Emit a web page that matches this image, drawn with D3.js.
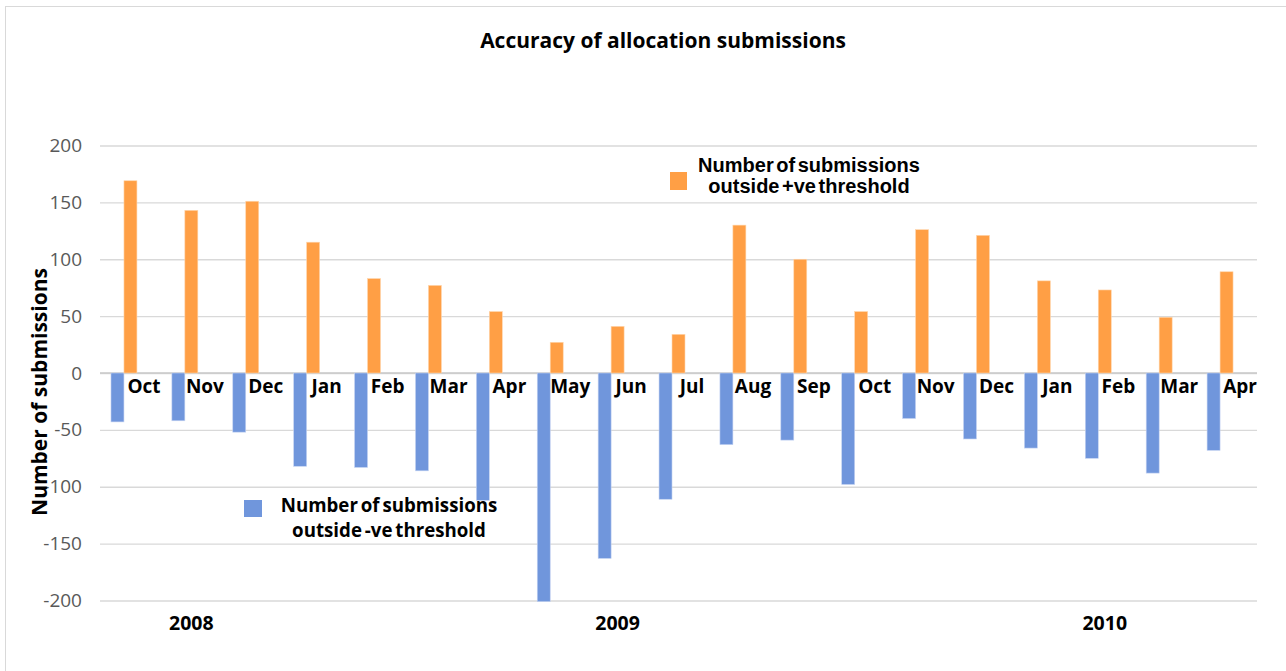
<!DOCTYPE html>
<html>
<head>
<meta charset="utf-8">
<script src="https://cdn.jsdelivr.net/npm/d3@7"></script>
<style>
  html, body { margin: 0; padding: 0; background: #fff; }
  svg { display: block; }
</style>
</head>
<body>
<svg id="chart" width="1286" height="671"></svg>
<script>
// Monthly categories, Oct 2008 – Apr 2010
const months = ["Oct", "Nov", "Dec", "Jan", "Feb", "Mar", "Apr", "May", "Jun", "Jul",
                "Aug", "Sep", "Oct", "Nov", "Dec", "Jan", "Feb", "Mar", "Apr"];

// Submissions outside the negative threshold (drawn below zero)
const negValues = [-43, -42, -52, -82, -83, -86, -112, -201, -163, -111,
                   -63, -59, -98, -40, -58, -66, -75, -88, -68];

// Submissions outside the positive threshold
const posValues = [169, 143, 151, 115, 83, 77, 54, 27, 41, 34,
                   130, 100, 54, 126, 121, 81, 73, 49, 89];

// Year groups on the second axis row: label, first and last category index
const yearLabels = ["2008", "2009", "2010"];
const yearStart  = [0, 3, 14];
const yearEnd    = [2, 13, 18];

const yTicks = [-200, -150, -100, -50, 0, 50, 100, 150, 200];

const seriesNames = ["Number of submissions outside -ve threshold",
                     "Number of submissions outside +ve threshold"];

const svg = d3.select("#chart");
const W = 1286, H = 671;

const plot = { left: 100, right: 1257, top: 145.5, bottom: 600.5 };

const colNeg = "#7096dc";
const colPos = "#ff9f45";
const font = "'Open Sans', 'Noto Sans', sans-serif";

// outer chart frame
svg.append("rect")
  .attr("x", 5.5).attr("y", 6.5)
  .attr("width", W + 20).attr("height", H + 20)
  .attr("fill", "#fff").attr("stroke", "#d9d9d9").attr("stroke-width", 1);

const x = d3.scaleBand()
  .domain(d3.range(months.length))
  .range([plot.left, plot.right])
  .paddingInner(0).paddingOuter(0);

// three slots per category; the third one stays empty
const xs = d3.scaleBand()
  .domain([0, 1, 2])
  .range([0, x.bandwidth()])
  .paddingInner(0).paddingOuter(0.846);

const y = d3.scaleLinear().domain([-200, 200]).range([plot.bottom, plot.top]);

// gridlines + tick labels (plain hyphen for negatives)
const yAxis = d3.axisLeft(y)
  .tickValues(yTicks)
  .tickFormat(d => String(d))
  .tickSize(-(plot.right - plot.left))
  .tickPadding(18);
const gy = svg.append("g").attr("transform", `translate(${plot.left},0)`).call(yAxis);
gy.select(".domain").remove();
gy.selectAll(".tick line").attr("stroke", "#d9d9d9").attr("stroke-width", 1.3);
gy.selectAll(".tick text")
  .attr("fill", "#595959")
  .style("font-family", font)
  .style("font-size", "19px");

// zero line
svg.append("line")
  .attr("x1", plot.left).attr("x2", plot.right)
  .attr("y1", y(0)).attr("y2", y(0))
  .attr("stroke", "#c8c8c8").attr("stroke-width", 1.3);

// negative bars
svg.append("g").selectAll("rect")
  .data(negValues)
  .join("rect")
  .attr("x", (d, i) => x(i) + xs(0))
  .attr("width", xs.bandwidth())
  .attr("y", y(0))
  .attr("height", d => y(d) - y(0))
  .attr("fill", colNeg)
  .attr("stroke", "#c6d4f2").attr("stroke-width", 0.6);

// positive bars
svg.append("g").selectAll("rect")
  .data(posValues)
  .join("rect")
  .attr("x", (d, i) => x(i) + xs(1))
  .attr("width", xs.bandwidth())
  .attr("y", d => y(d))
  .attr("height", d => y(0) - y(d))
  .attr("fill", colPos)
  .attr("stroke", "#ffd6ad").attr("stroke-width", 0.6);

// month labels just under the zero line
svg.append("g").selectAll("text")
  .data(months)
  .join("text")
  .attr("x", (d, i) => x(i) + x.bandwidth() * 0.723)
  .attr("y", y(0) + 20)
  .attr("text-anchor", "middle")
  .attr("fill", "#000")
  .style("font-family", font)
  .style("font-size", "19px")
  .style("font-weight", "700")
  .text(d => d);

// year labels
svg.append("g").selectAll("text")
  .data(yearLabels)
  .join("text")
  .attr("x", (d, i) => (x(yearStart[i]) + x(yearEnd[i]) + x.bandwidth()) / 2)
  .attr("y", 630)
  .attr("text-anchor", "middle")
  .attr("fill", "#000")
  .style("font-family", font)
  .style("font-size", "19.5px")
  .style("font-weight", "700")
  .text(d => d);

// title
svg.append("text")
  .attr("x", 663).attr("y", 48)
  .attr("text-anchor", "middle")
  .attr("fill", "#000")
  .style("font-family", font)
  .style("font-size", "21px")
  .style("font-weight", "700")
  .text("Accuracy of allocation submissions");

// y axis title
svg.append("text")
  .attr("transform", "translate(47,392) rotate(-90)")
  .attr("text-anchor", "middle")
  .attr("fill", "#000")
  .style("font-family", font)
  .style("font-size", "21px")
  .style("font-weight", "700")
  .text("Number of submissions");

// legend: positive series
const lp = svg.append("g");
lp.append("rect").attr("x", 670).attr("y", 172).attr("width", 17).attr("height", 18).attr("fill", colPos);
lp.append("text")
  .attr("x", 809).attr("y", 172)
  .attr("text-anchor", "middle")
  .attr("fill", "#000")
  .style("font-family", "'Liberation Sans', Arial, sans-serif")
  .style("font-size", "20px")
  .style("font-weight", "700")
  .style("word-spacing", "-3px")
  .selectAll("tspan")
  .data(["Number of submissions", "outside +ve threshold"])
  .join("tspan")
  .attr("x", 809)
  .attr("dy", (d, i) => i === 0 ? 0 : 21)
  .text(d => d);

// legend: negative series
const ln = svg.append("g");
ln.append("rect").attr("x", 244).attr("y", 500).attr("width", 18).attr("height", 17).attr("fill", colNeg);
ln.append("text")
  .attr("x", 389).attr("y", 512)
  .attr("text-anchor", "middle")
  .attr("fill", "#000")
  .style("font-family", font)
  .style("font-size", "18.7px")
  .style("font-weight", "700")
  .style("word-spacing", "-2px")
  .selectAll("tspan")
  .data(["Number of submissions", "outside -ve threshold"])
  .join("tspan")
  .attr("x", 389)
  .attr("dy", (d, i) => i === 0 ? 0 : 25)
  .text(d => d);
</script>
</body>
</html>
